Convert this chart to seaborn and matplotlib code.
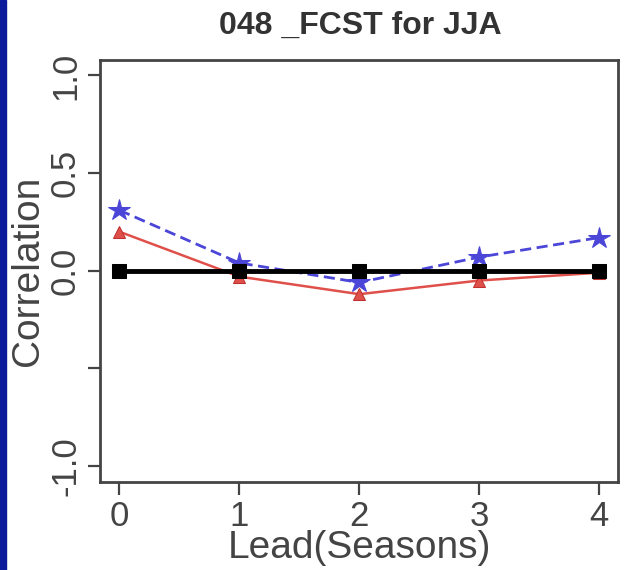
import matplotlib
matplotlib.use("Agg")
import matplotlib.pyplot as plt
import seaborn as sns
import pandas as pd
from matplotlib.patches import Rectangle

sns.set_style("white")
plt.rcParams['font.family'] = ['Liberation Sans', 'DejaVu Sans']

lead = [0, 1, 2, 3, 4]
blue_vals = [0.31, 0.04, -0.06, 0.07, 0.17]
red_vals = [0.20, -0.03, -0.12, -0.05, -0.01]
black_vals = [0.0, 0.0, 0.0, 0.0, 0.0]
title = "048 _FCST for JJA"
xlabel = "Lead(Seasons)"
ylabel = "Correlation"
yticks = [-1.0, -0.5, 0.0, 0.5, 1.0]
ytick_labels = ["-1.0", "", "0.0", "0.5", "1.0"]

fig = plt.figure(figsize=(6.26, 5.7), dpi=100)
ax = fig.add_axes([0.16, 0.155, 0.828, 0.74])

blue_df = pd.DataFrame({"lead": lead, "corr": blue_vals})
red_df = pd.DataFrame({"lead": lead, "corr": red_vals})
black_df = pd.DataFrame({"lead": lead, "corr": black_vals})

sns.lineplot(data=red_df, x="lead", y="corr", ax=ax, color="#E0504A",
             linewidth=1.8, marker="^", markersize=8, markeredgecolor="#C03030", zorder=2)
sns.lineplot(data=blue_df, x="lead", y="corr", ax=ax, color="#4B45D8",
             linewidth=2.0, linestyle=(0, (4, 2)), marker="*", markersize=16,
             markeredgecolor="#4B45D8", zorder=3)
sns.lineplot(data=black_df, x="lead", y="corr", ax=ax, color="black",
             linewidth=3.5, marker="s", markersize=10, markeredgecolor="black", zorder=4)

ax.set_xlim(-0.16, 4.16)
ax.set_ylim(-1.08, 1.08)
ax.set_xticks(lead)
ax.set_xticklabels([str(v) for v in lead])
ax.set_yticks(yticks)
ax.set_yticklabels(ytick_labels, rotation=90, va="center")

ax.tick_params(axis="both", direction="out", length=9, width=1.6, color="#444444",
               labelsize=25, labelcolor="#444444", pad=4, left=True, bottom=True)
for s in ax.spines.values():
    s.set_color("#444444")
    s.set_linewidth(2.0)

ax.set_xlabel(xlabel, fontsize=28, color="#444444", labelpad=-2)
ax.set_ylabel(ylabel, fontsize=28, color="#444444", labelpad=2)
fig.text(0.575, 0.955, title, ha="center", va="center", fontsize=23,
         fontweight="bold", color="#333333")

fig.patches.append(Rectangle((0, 0), 0.01, 1, transform=fig.transFigure,
                             color="#0A1A9A", zorder=0))

fig.savefig("out.png", dpi=100, facecolor="white")
